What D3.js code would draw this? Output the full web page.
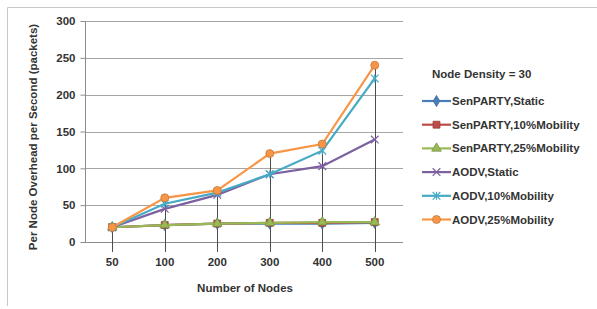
<!DOCTYPE html>
<html>
<head>
<meta charset="utf-8">
<script src="https://cdn.jsdelivr.net/npm/d3@7"></script>
<style>
  body { margin: 0; background: #fff; }
  text { font-family: "Liberation Sans", Arial, sans-serif; font-weight: bold; fill: #333; }
</style>
</head>
<body>
<div id="chart"></div>
<script>
// category labels on the x axis
var nodes = ["50", "100", "200", "300", "400", "500"];
var yTicks = [0, 50, 100, 150, 200, 250, 300];

var seriesNames = ["SenPARTY,Static", "SenPARTY,10%Mobility", "SenPARTY,25%Mobility",
                   "AODV,Static", "AODV,10%Mobility", "AODV,25%Mobility"];
var senStatic = [20, 23, 25, 25, 25, 26];
var sen10 = [20, 23, 25, 26, 26, 27];
var sen25 = [20, 23, 25, 26, 27, 27];
var aodvStatic = [20, 45, 64, 92, 103, 139];
var aodv10 = [20, 52, 67, 92, 124, 222];
var aodv25 = [20, 60, 70, 120, 133, 240];

var colors = ["#4a7ebb", "#be4b48", "#98b954", "#7d60a0", "#46aac5", "#f79646"];
var shapes = ["diamond", "square", "triangle", "x", "star", "circle"];

var allSeries = [senStatic, sen10, sen25, aodvStatic, aodv10, aodv25];

var w = 597, h = 309;
var svg = d3.select("#chart").append("svg")
    .attr("width", w)
    .attr("height", h);

// outer chart border (only top and left visible in the picture)
svg.append("line").attr("x1", 7.5).attr("x2", w).attr("y1", 7.5).attr("y2", 7.5)
   .attr("stroke", "#c8c8c8");
svg.append("line").attr("x1", 7.5).attr("x2", 7.5).attr("y1", 7.5).attr("y2", 306)
   .attr("stroke", "#c8c8c8");

var xScale = d3.scalePoint()
    .domain(nodes)
    .range([86, 401])
    .padding(0.5);

var yScale = d3.scaleLinear()
    .domain([0, 300])
    .range([242, 21]);

// gridlines
svg.append("g")
   .selectAll("line")
   .data(yTicks.slice(1))
   .enter()
   .append("line")
   .attr("x1", 85)
   .attr("x2", 403)
   .attr("y1", d => Math.round(yScale(d)) + 0.5)
   .attr("y2", d => Math.round(yScale(d)) + 0.5)
   .attr("stroke", "#a6a6a6");

// y axis
var yAxis = d3.axisLeft(yScale).tickValues(yTicks).tickSize(5).tickPadding(5);
var yg = svg.append("g")
   .attr("transform", "translate(85.5,0)")
   .call(yAxis);
yg.select(".domain").attr("stroke", "#8c8c8c").attr("d", "M0," + yScale(300) + "V" + (yScale(0) + 0.5));
yg.selectAll(".tick line").attr("stroke", "#8c8c8c");
yg.selectAll(".tick text").style("font-size", "11.5px").attr("fill", "#333");

// x axis line
svg.append("line")
   .attr("x1", 85).attr("x2", 403)
   .attr("y1", Math.round(yScale(0)) + 0.5).attr("y2", Math.round(yScale(0)) + 0.5)
   .attr("stroke", "#8c8c8c");

// drop lines from highest point down past the axis
svg.append("g")
   .selectAll("line")
   .data(nodes)
   .enter()
   .append("line")
   .attr("x1", d => Math.round(xScale(d)) + 0.5)
   .attr("x2", d => Math.round(xScale(d)) + 0.5)
   .attr("y1", (d, i) => yScale(d3.max(allSeries, s => s[i])))
   .attr("y2", yScale(0) + 10)
   .attr("stroke", "#4d4d4d")
   .attr("stroke-width", 1);

// x tick labels
svg.append("g")
   .selectAll("text")
   .data(nodes)
   .enter()
   .append("text")
   .attr("x", d => xScale(d))
   .attr("y", 266)
   .attr("text-anchor", "middle")
   .style("font-size", "11.5px")
   .text(d => d);

// axis titles
svg.append("text")
   .attr("x", 245)
   .attr("y", 292)
   .attr("text-anchor", "middle")
   .style("font-size", "11.5px")
   .text("Number of Nodes");

svg.append("text")
   .attr("transform", "translate(37,137) rotate(-90)")
   .attr("text-anchor", "middle")
   .style("font-size", "11.5px")
   .text("Per Node Overhead per Second (packets)");

function drawMarker(g, shape, color, x, y) {
  var dark = d3.color(color).darker(0.6);
  if (shape === "diamond") {
    g.append("path").attr("d", d3.symbol(d3.symbolDiamond, 36)())
     .attr("transform", "translate(" + x + "," + y + ")")
     .attr("fill", color).attr("stroke", dark).attr("stroke-width", 0.8);
  } else if (shape === "square") {
    g.append("path").attr("d", d3.symbol(d3.symbolSquare, 48)())
     .attr("transform", "translate(" + x + "," + y + ")")
     .attr("fill", color).attr("stroke", dark).attr("stroke-width", 0.8);
  } else if (shape === "triangle") {
    g.append("path").attr("d", d3.symbol(d3.symbolTriangle, 40)())
     .attr("transform", "translate(" + x + "," + y + ")")
     .attr("fill", color).attr("stroke", dark).attr("stroke-width", 0.8);
  } else if (shape === "circle") {
    g.append("path").attr("d", d3.symbol(d3.symbolCircle, 50)())
     .attr("transform", "translate(" + x + "," + y + ")")
     .attr("fill", color).attr("stroke", dark).attr("stroke-width", 0.8);
  } else if (shape === "x") {
    g.append("path").attr("d", d3.symbol(d3.symbolTimes, 40)())
     .attr("transform", "translate(" + x + "," + y + ")")
     .attr("fill", "none").attr("stroke", color).attr("stroke-width", 1.2);
  } else if (shape === "star") {
    g.append("path").attr("d", d3.symbol(d3.symbolTimes, 40)())
     .attr("transform", "translate(" + x + "," + y + ")")
     .attr("fill", "none").attr("stroke", color).attr("stroke-width", 1.2);
    g.append("line").attr("x1", x).attr("x2", x).attr("y1", y - 4).attr("y2", y + 4)
     .attr("stroke", color).attr("stroke-width", 1.2);
  }
}

var line = d3.line()
    .x((d, i) => xScale(nodes[i]))
    .y(d => yScale(d));

var plot = svg.append("g");
allSeries.forEach(function(vals, k) {
  var g = plot.append("g");
  g.append("path")
   .datum(vals)
   .attr("d", line)
   .attr("fill", "none")
   .attr("stroke", colors[k])
   .attr("stroke-width", 2.2);
  vals.forEach(function(v, i) {
    drawMarker(g, shapes[k], colors[k], xScale(nodes[i]), yScale(v));
  });
});

// legend
var legend = svg.append("g");
legend.append("text")
   .attr("x", 432)
   .attr("y", 78)
   .style("font-size", "11.5px")
   .text("Node Density = 30");

seriesNames.forEach(function(name, k) {
  var y = 101 + k * 23.7;
  var g = legend.append("g");
  g.append("line")
   .attr("x1", 422).attr("x2", 451)
   .attr("y1", y).attr("y2", y)
   .attr("stroke", colors[k]).attr("stroke-width", 2.2);
  drawMarker(g, shapes[k], colors[k], 436.5, y);
  g.append("text")
   .attr("x", 452)
   .attr("y", y + 4)
   .style("font-size", "11.5px")
   .text(name);
});
</script>
</body>
</html>
